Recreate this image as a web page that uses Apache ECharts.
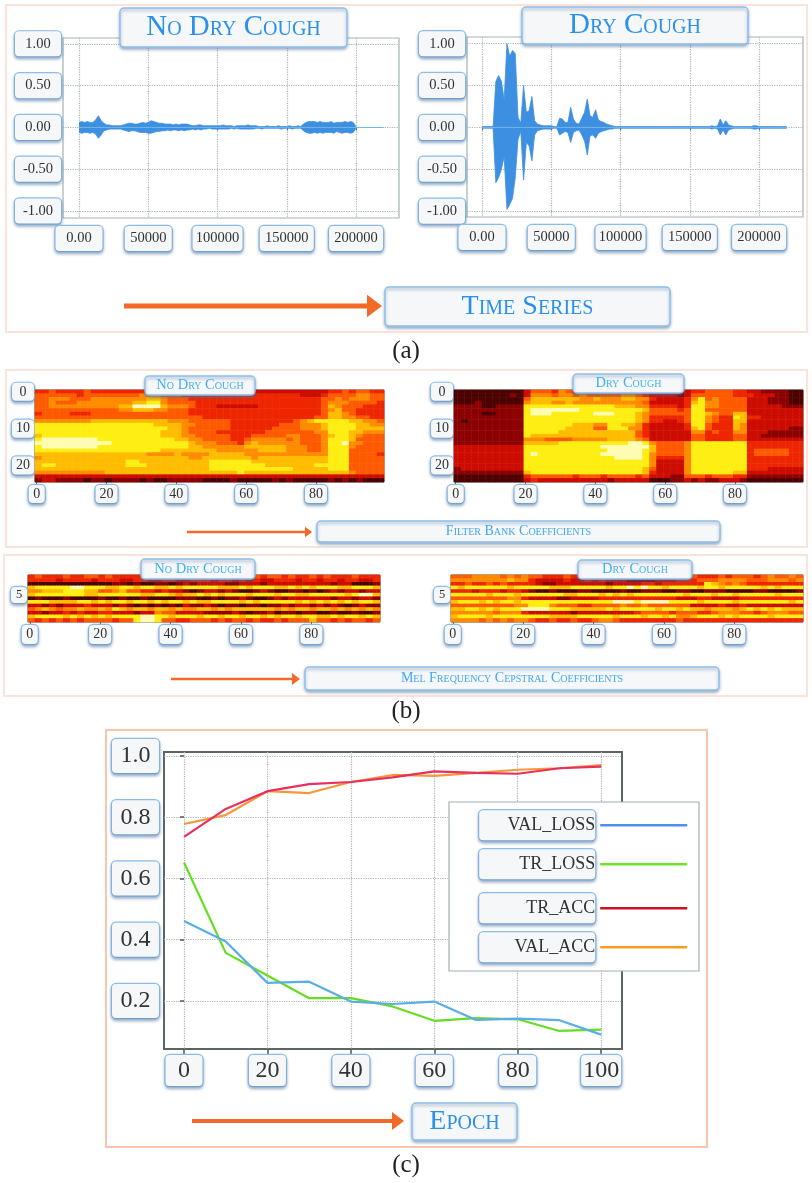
<!DOCTYPE html>
<html><head><meta charset="utf-8">
<style>html,body{margin:0;padding:0;background:#fff}#c{width:812px;height:1183px}</style>
<script src="https://cdn.jsdelivr.net/npm/echarts@6/dist/echarts.min.js"></script>
</head><body><div id="c"></div>
<script>
// ---------- waveform envelopes, in hundredths of full scale, one value every 2000 samples ----------
const waveStep = 2000;
const noCoughUpper = [6,7,6,7,6, 6,9,14,8,5, 3,3,2,2,2, 2,3,4,5,5, 4,4,5,6,5, 6,8,7,6,5, 5,4,4,4,3, 4,3,4,4,4, 3,2,2,3,3, 2,2,2,2,2, 2,2,3,2,2, 2,1,2,2,2, 2,3,2,2,2, 1,1,1,2,1, 1,1,2,1,1, 1,2,1,1,2, 1,4,6,7,7, 7,6,7,6,6, 6,7,5,6,6, 6,7,6,7,6, 1];
const noCoughLower = [-6,-7,-6,-6,-7, -6,-8,-13,-9,-4, -3,-2,-2,-2,-2, -2,-3,-4,-5,-4, -4,-5,-6,-6,-6, -7,-7,-6,-5,-5, -4,-4,-3,-4,-3, -3,-4,-3,-4,-3, -3,-2,-3,-2,-3, -2,-2,-1,-2,-2, -2,-2,-2,-2,-2, -1,-2,-1,-2,-2, -2,-2,-2,-2,-1, -1,-2,-1,-1,-1, -1,-1,-1,-2,-1, -1,-1,-2,-1,-1, -1,-4,-6,-7,-7, -6,-7,-6,-7,-6, -6,-6,-7,-5,-6, -7,-6,-6,-7,-6, -1];
const dryCoughUpper = [1,1,1,1,1, 55,62,55,33,100, 85,92,88,12,5, 50,18,20,37,8, 4,3,2,2,2, 2,1,1,11,10, 6,6,24,10,5, 4,11,18,34,14, 12,21,9,7,6, 4,3,2,1,1, 1,1,1,1,1, 1,1,1,1,1, 1,1,1,1,1, 1,1,1,1,1, 1,1,1,1,1, 1,1,1,1,1, 1,1,1,2,1, 2,10,3,8,3, 2,1,1,1,1, 1,1,1,2,2, 1,1,1,1,1, 1,1,1,1,1, 1];
const dryCoughLower = [-1,-1,-1,-1,-1, -66,-60,-50,-35,-98, -92,-85,-60,-14,-5, -63,-18,-22,-40,-9, -4,-3,-2,-2,-2, -2,-1,-1,-9,-7, -5,-6,-18,-6,-4, -3,-9,-16,-33,-10, -9,-13,-7,-5,-4, -3,-2,-2,-1,-1, -1,-1,-1,-1,-1, -1,-1,-1,-1,-1, -1,-1,-1,-1,-1, -1,-1,-1,-1,-1, -1,-1,-1,-1,-1, -1,-1,-1,-1,-1, -1,-1,-1,-2,-1, -2,-9,-3,-9,-3, -2,-1,-1,-1,-1, -1,-1,-1,-2,-2, -1,-1,-1,-1,-1, -1,-1,-1,-1,-1, -1];
const waveXTicks = [0,50000,100000,150000,200000];
const waveYTicks = [-1,-0.5,0,0.5,1];

// ---------- spectrogram levels 0 (black) .. 9 (white); one character = two frames ----------
const fbankNoCough = [
"4454444544 4444445544 4433333333 3333333333 3344545544",
"5555554555 5555566655 5444444444 4444444433 3455556655",
"5566655566 6666667765 5544444444 4444444444 4556566655",
"5565556666 6666778865 5554444444 4444444444 4566655554",
"5566666666 6677999976 6654443333 3344444444 4576555444",
"5555555555 5566777665 5544444444 4444444444 4567554444",
"4555544455 5555555555 5544444444 4444444444 4577654444",
"5555555555 5555555555 5555444444 4444444444 5577665544",
"6666666677 7777777776 6655555544 4444444567 8888877665",
"8888888888 8888888777 7665555544 4444455566 6788887766",
"8888888888 8888888887 7655555544 4444555566 6788887777",
"8888888888 8888888877 7655554444 4445555555 6688877666",
"7888888888 8888888877 7665555544 4555556655 5678876555",
"8999999998 8888888888 7766555544 5666665655 5688875555",
"9999999999 9888888888 8876665554 6766666655 5688966555",
"8999999998 8888888888 8877666666 7777776665 5688865555",
"8888888888 8888888877 7777776666 6677776665 5688855555",
"7777777777 7777776666 7666677777 6666666666 6688855554",
"6777777777 7777777777 7766777777 7677777777 7788855555",
"7777777777 7778877777 7777788888 8777777777 7788855555",
"7887777777 7778887777 7777788888 8887777777 8888855555",
"7777777777 7777777777 7777788888 8888888777 7788855555",
"6666666666 7777777777 7777777778 7777777777 7777765555",
"3333333333 3333333333 3333333333 3333333333 3333333333",
"2332222122 1222212112 2222111121 1111212111 1121212111"];
const fbankDryCough = [
"1111111111 3555465444 4554544333 2223445555 4433222211",
"1111111121 3666566565 5555665433 3323555555 4443332211",
"1111111111 5777777766 7666776643 3334685655 5533322211",
"1112111111 6777667666 6666666533 3334786655 5533322211",
"2222112222 8888888888 8887776644 4434886655 5533333222",
"2222222222 8999999988 8888888755 5545885555 5533333333",
"2222112222 8999888888 9998887655 5555887655 7733333333",
"2222222222 8888888888 8888887644 4445886544 8744333333",
"2122222222 8888888888 8888887644 3345886544 7733333333",
"2222222222 8888888777 6688776433 3334885444 7633333333",
"2222222222 8888887777 5588866433 3334785444 7633333322",
"2222222222 8888877777 7777775433 3333664544 6633322222",
"2222222222 8777777777 7777775433 3333554444 5533222222",
"2222222222 6665555666 6677776533 3333554444 5533333333",
"2222222222 7777788888 8888899865 5556888888 8844444444",
"3333333333 8888888888 8999999975 5556888888 8844444444",
"3333333333 8888888888 8899999875 5556888888 8845555544",
"3333333333 8988888888 8999999865 5556888888 8845555544",
"3333333333 8888888888 8889999864 4446888888 8844444444",
"3333333333 8888888888 8888888863 3336888888 8844444444",
"3333333333 8888888888 8888888863 3336888888 8844444444",
"2333333333 8888888888 8888888753 3336888888 8844433333",
"2222222222 7888888888 8888888743 3336888888 7733333333",
"1111111111 4555555455 5455554533 3225554555 4422222222",
"1111111111 3433333333 3323333311 1223232233 3211111111"];
const mfccNoCough = [
"4544454455 4544445555 5454454455 5454554544 5454445444",
"4444344443 4443344334 4334443443 4343344434 4344344334",
"1111111111 1122121122 1232333322 3332333333 3332331112",
"7888889988 8778878877 8788888777 8788877878 7888778887",
"6677788877 5567554434 3321233232 1123211221 2123233233",
"7888888877 8888887788 7677878788 8788878877 8888878997",
"1211121111 2112112111 1222112122 3211232333 3332332332",
"8887777887 8788788787 8878778888 7878888878 7878787887",
"3323233343 3323212121 2132232122 1221223233 2323212322",
"5676566766 7687677677 6766776767 7777767677 6776767676",
"3323343433 4433323365 5333322223 2122312212 2112112112",
"7888878787 8788889988 7888788788 7887878878 8778788787",
"5454545455 5545589985 5445554545 5454454555 7554545545"];
const mfccDryCough = [
"5556666565 6554445444 4544443322 3344544454 5554565565",
"6666666676 6433334334 3433322223 3344455566 6655566656",
"4454454544 4432233333 3323333443 4444448765 6544444444",
"8788888878 8888777888 8878898988 7888878878 8888787888",
"4443444344 3211211122 1111211222 1122112221 1112211112",
"8888878887 8888887788 8787878888 8887888788 7888887888",
"5555555566 4333322333 3444444444 4433344333 3444444444",
"7888787887 8888888888 8889998999 9888878888 7888888878",
"5555555556 6888655544 5555655655 5555333343 3433333333",
"7788787888 9999888777 7787888887 8878776777 6787878777",
"6666665666 4333333233 3333334555 5455544566 6554566655",
"7888878888 8888777788 8887888788 7866788878 7888878888",
"6666565656 6544544544 5665444444 4454444444 4444444444"];

// ---------- training curves ----------
const epochs = [0,10,20,30,40,50,60,70,80,90,100];
const valLoss = [0.461,0.394,0.259,0.263,0.198,0.19,0.198,0.138,0.142,0.137,0.09];
const trLoss  = [0.652,0.357,0.283,0.209,0.209,0.182,0.135,0.144,0.14,0.102,0.106];
const trAcc   = [0.736,0.827,0.885,0.908,0.915,0.93,0.95,0.945,0.942,0.96,0.965];
const valAcc  = [0.778,0.807,0.885,0.879,0.915,0.938,0.935,0.945,0.955,0.96,0.97];
const epochTicks = [0,20,40,60,80,100];
const metricTicks = [0.2,0.4,0.6,0.8,1.0];

// ---------- shared styling ----------
const SERIF = '"Liberation Serif","Times New Roman",serif';
const BOX = {backgroundColor:'#f5f7f9',borderColor:'#8fbfe8',borderWidth:1.2,borderRadius:4,
  shadowColor:'rgba(70,110,160,0.45)',shadowBlur:3,shadowOffsetY:2};
const HOT = ['#100000','#4c0000','#8c0000','#cc0c00','#ee2600','#ff5a00','#ff8c00','#ffbc00','#ffee12','#fffcb4'];

function richBoxes(fontSize,h,widths){
  const r={};
  widths.forEach(w=>{r['w'+w]=Object.assign({},BOX,{width:w,height:h,lineHeight:h,align:'center',verticalAlign:'middle',
    fontSize,fontFamily:SERIF,color:'#333'});});
  return r;
}
const tag=(w,t)=>`{w${w}|${t}}`;

const grids=[], xAxes=[], yAxes=[], series=[], heatIdx=[], graphics=[];

function addGrid(l,t,r,b,border,bw){
  grids.push({left:l,top:t,width:r-l,height:b-t,show:true,borderColor:border,borderWidth:bw,backgroundColor:'#fff'});
  return grids.length-1;
}
const DOT={show:true,lineStyle:{type:'dotted',color:'#a9b4b6',width:1.2}};

// ---------- (a) waveforms ----------
function waveChart(box,upper,lower,name,yMargin,xMargin){
  const g=addGrid(box[0],box[1],box[2],box[3],'#a3b3b5',1.2);
  xAxes.push({gridIndex:g,type:'value',min:box[4],max:box[5],splitLine:DOT,axisLine:{show:false},
    axisTick:{show:true,length:3,customValues:waveXTicks,lineStyle:{color:'#667'}},
    axisLabel:{customValues:waveXTicks,margin:xMargin,showMinLabel:true,showMaxLabel:true,
      formatter:v=>v===0?tag(47,'0.00'):tag(v===100000?50:v===50000?47:54,String(v)),rich:richBoxes(14.5,25,[47,50,54])}});
  yAxes.push({gridIndex:g,type:'value',min:box[6],max:box[7],splitLine:DOT,axisLine:{show:false},
    axisTick:{show:false,customValues:waveYTicks},
    axisLabel:{customValues:waveYTicks,margin:yMargin,formatter:v=>tag(46,v.toFixed(2)),rich:richBoxes(14.5,25,[46])}});
  const mk=(arr,nm)=>({name:nm,type:'line',xAxisIndex:g,yAxisIndex:g,symbol:'none',showSymbol:false,silent:true,
    lineStyle:{color:'#3d8fe2',width:0.8},areaStyle:{color:'#3d8fe2',opacity:1},itemStyle:{color:'#3d8fe2'},
    data:arr.map((v,i)=>[i*waveStep,v/100])});
  series.push(mk(upper,name+' upper'),mk(lower,name+' lower'));
  series.push({name:name+' baseline',type:'line',xAxisIndex:g,yAxisIndex:g,symbol:'none',silent:true,
    lineStyle:{color:'#6fb3e6',width:1},data:[[0,0],[220000,0]]});
}
waveChart([63,38,399,218,-11550,231000,-1.084,1.07],noCoughUpper,noCoughLower,'No Dry Cough',2,8);
waveChart([467,37,803,217,-10830,231700,-1.07,1.08],dryCoughUpper,dryCoughLower,'Dry Cough',2,8);

// ---------- (b) heatmaps ----------
function heat(box,rows,name,yEvery,fsY,hY,wY,fsX,hX,marginX){
  const g=addGrid(box[0],box[1],box[2],box[3],'#4a4a4a',1);
  const frames=Array.from({length:100},(_,i)=>String(i));
  const bands=Array.from({length:rows.length},(_,i)=>String(i));
  xAxes.push({gridIndex:g,type:'category',data:frames,splitLine:{show:false},splitArea:{show:false},axisLine:{show:false},
    axisTick:{show:true,length:2,interval:19,alignWithLabel:true,lineStyle:{color:'#555'}},
    axisLabel:{interval:19,margin:marginX,formatter:v=>v==='0'?tag(16,v):tag(22,v),rich:richBoxes(fsX,hX,[16,22])}});
  yAxes.push({gridIndex:g,type:'category',inverse:true,data:bands,splitLine:{show:false},splitArea:{show:false},axisLine:{show:false},
    axisTick:{show:false},
    axisLabel:{interval:yEvery-1,margin:1,formatter:v=>tag(wY,v),rich:richBoxes(fsY,hY,[wY])}});
  const data=[];
  rows.forEach((row,r)=>{
    const s=row.replace(/ /g,'');
    for(let i=0;i<s.length;i++){const v=+s[i];data.push([2*i,r,v],[2*i+1,r,v]);}
  });
  heatIdx.push(series.length);
  series.push({name,type:'heatmap',xAxisIndex:g,yAxisIndex:g,data,progressive:0,silent:true,itemStyle:{borderWidth:0},label:{show:false}});
}
heat([35,390,384,482],fbankNoCough,'Filter bank, no dry cough',10,14,18,22,14,18,3);
heat([454,390,803,482],fbankDryCough,'Filter bank, dry cough',10,14,18,22,14,18,3);
heat([28,575,380,622],mfccNoCough,'MFCC, no dry cough',5,12.5,16,16,14,19,3);
heat([451,575,803,622],mfccDryCough,'MFCC, dry cough',5,12.5,16,16,14,19,3);

// ---------- (c) training curves ----------
const gc=addGrid(164,752,622,1049,'#5c6566',2);
xAxes.push({gridIndex:gc,type:'value',min:-4.8,max:105,splitLine:DOT,axisLine:{show:false},
  axisTick:{show:true,length:5,customValues:epochTicks,lineStyle:{color:'#555',width:1.5}},
  axisLabel:{customValues:epochTicks,margin:6,formatter:v=>v===100?tag(40,v):tag(37,v),rich:richBoxes(24,31,[37,40])}});
yAxes.push({gridIndex:gc,type:'value',min:0.043,max:1.013,splitLine:DOT,axisLine:{show:false},
  axisTick:{show:true,length:4,customValues:metricTicks,lineStyle:{color:'#555',width:1.5}},
  axisLabel:{customValues:metricTicks,margin:5,formatter:v=>tag(47,v.toFixed(1)),rich:richBoxes(24,34,[47])}});
const curves=[['VAL_LOSS',valLoss,'#5aaee6','#4f8ff0',809],['TR_LOSS',trLoss,'#66dd22','#6fe52a',848],
              ['TR_ACC',trAcc,'#e8305e','#cc1122',892],['VAL_ACC',valAcc,'#f6983a','#f99b1c',931]];
const legends=[];
curves.concat().reverse().forEach(()=>{});
[curves[3],curves[2],curves[1],curves[0]].forEach(c=>{
  series.push({name:c[0],type:'line',xAxisIndex:gc,yAxisIndex:gc,symbol:'none',silent:true,
    lineStyle:{color:c[2],width:2.2},itemStyle:{color:c[2]},data:epochs.map((e,i)=>[e,c[1][i]])});
});
curves.forEach(c=>{
  legends.push({left:478,top:c[4],z:30,padding:0,align:'right',icon:'rect',itemWidth:87,itemHeight:2.6,
    selectedMode:false,
    data:[{name:c[0],itemStyle:{color:c[3]}}],
    textStyle:Object.assign({},BOX,{fontSize:18,fontFamily:SERIF,color:'#333',width:116,height:30,lineHeight:30,align:'center',verticalAlign:'middle'})});
});

// ---------- panels, captions, arrows, banner labels ----------
function panel(l,t,r,b,color){
  graphics.push({type:'rect',z:-10,shape:{x:l,y:t,width:r-l,height:b-t},style:{fill:'none',stroke:color,lineWidth:2}});
}
panel(6,5,807,332,'#fbe3da');
panel(6,370,807,547,'#fbe3da');
panel(4,555,807,696,'#fbe3da');
panel(106,730,707,1147,'#f9c6ad');

function banner(l,t,r,b,text,size,color){
  graphics.push({type:'rect',z:20,shape:{x:l,y:t,width:r-l,height:b-t,r:4},
    style:{fill:'#f5f7f9',stroke:'#8fbfe8',lineWidth:1.4,shadowColor:'rgba(70,110,160,0.5)',shadowBlur:3,shadowOffsetY:2}});
  graphics.push({type:'text',z:21,x:(l+r)/2,y:(t+b)/2,
    style:{text,font:`small-caps ${size}px ${SERIF}`,fill:color,align:'center',verticalAlign:'middle'}});
}
banner(120,8,347,47,'No Dry Cough',29,'#2b90ea');
banner(522,7,748,44,'Dry Cough',29,'#2b90ea');
banner(385,287,670,326,'Time Series',28,'#2b90ea');
banner(145,376,255,395,'No Dry Cough',14.5,'#3fb0f0');
banner(573,374,684,393,'Dry Cough',14.5,'#3fb0f0');
banner(317,521,720,542,'Filter Bank Coefficients',14,'#3fa8f0');
banner(141,559,255,579,'No Dry Cough',14.5,'#3fb0f0');
banner(578,560,692,579,'Dry Cough',14.5,'#3fb0f0');
banner(305,667,719,690,'Mel Frequency Cepstral Coefficients',14,'#3fa8f0');
banner(412,1103,517,1140,'Epoch',28,'#2b90ea');

function arrow(x1,x2,y,th,head){
  const c='#f26a26';
  graphics.push({type:'rect',z:15,shape:{x:x1,y:y-th/2,width:x2-x1-head,height:th},style:{fill:c}});
  graphics.push({type:'polygon',z:15,shape:{points:[[x2-head,y-head*0.75],[x2,y],[x2-head,y+head*0.75]]},style:{fill:c}});
}
arrow(124,382,306,5,15);
arrow(187,312,532,2.5,7);
arrow(171,300,679,2.5,8);
arrow(192,404,1121,4,12);

[['(a)',351],['(b)',711],['(c)',1165]].forEach(c=>{
  graphics.push({type:'text',z:5,x:406,y:c[1],style:{text:c[0],font:`25px ${SERIF}`,fill:'#222',align:'center',verticalAlign:'middle'}});
});
// legend frame sits above the curves and below the legend entries
graphics.push({type:'rect',z:25,shape:{x:449,y:802,width:250,height:169},style:{fill:'#fff',stroke:'#a3b0b2',lineWidth:1.2}});

const chart=echarts.init(document.getElementById('c'),null,{renderer:'canvas',width:812,height:1183});
chart.setOption({
  animation:false,backgroundColor:'#fff',
  grid:grids,xAxis:xAxes,yAxis:yAxes,series,legend:legends,
  visualMap:{show:false,type:'continuous',min:0,max:9,dimension:2,seriesIndex:heatIdx,inRange:{color:HOT}},
  graphic:{elements:graphics}
});
</script></body></html>
